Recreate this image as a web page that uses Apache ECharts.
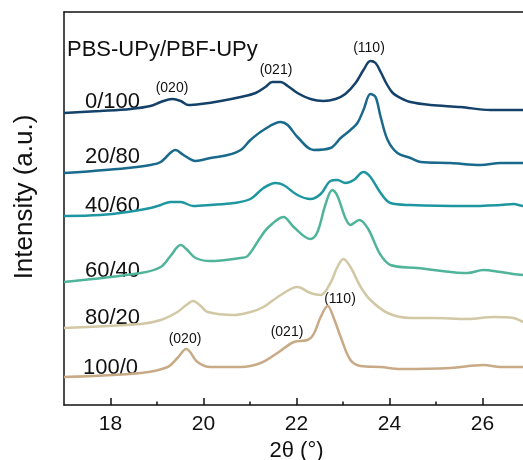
<!DOCTYPE html>
<html>
<head>
<meta charset="utf-8">
<title>XRD patterns</title>
<script src="https://cdn.jsdelivr.net/npm/echarts@6/dist/echarts.min.js"></script>
<style>
  html, body { margin: 0; padding: 0; overflow: hidden; background: #fff; }
  #chart { width: 540px; height: 460px; }
</style>
</head>
<body>
<div id="chart"></div>
<script>
// Diffraction patterns, [2θ (°), stacked intensity (a.u.)]
const pattern_0_100 = [
  [17.0, 292], [17.78, 294], [18.43, 296], [18.86, 299], [19.08, 303], [19.33, 306],
  [19.51, 304], [19.68, 300], [19.94, 301], [20.37, 304], [20.80, 308], [21.12, 312],
  [21.33, 318], [21.48, 323], [21.66, 323], [21.81, 319], [22.02, 312], [22.30, 306],
  [22.58, 304], [22.84, 306], [23.05, 311], [23.27, 322], [23.44, 335], [23.59, 344],
  [23.70, 342], [23.81, 333], [23.94, 321], [24.07, 312], [24.24, 307], [24.45, 303],
  [24.88, 300], [25.53, 298], [26.17, 295], [26.88, 295], [27.0, 295]
];
const pattern_20_80 = [
  [17.0, 232], [17.63, 234], [18.37, 237], [18.86, 240], [19.08, 243], [19.40, 255],
  [19.57, 250], [19.83, 244], [20.15, 247], [20.52, 250], [20.80, 255], [21.01, 265],
  [21.29, 275], [21.66, 283], [21.81, 280], [22.02, 268], [22.37, 255], [22.73, 257],
  [22.95, 267], [23.16, 275], [23.31, 282], [23.44, 295], [23.59, 311], [23.70, 308],
  [23.81, 288], [23.96, 265], [24.17, 252], [24.45, 247], [24.67, 243], [25.31, 242],
  [25.96, 240], [26.39, 242], [26.88, 242], [27.0, 242]
];
const pattern_40_60 = [
  [17.0, 189], [17.78, 190], [18.37, 193], [18.86, 197], [19.08, 200], [19.29, 203],
  [19.51, 203], [19.78, 199], [20.15, 200], [20.65, 202], [21.01, 206], [21.29, 217],
  [21.55, 222], [21.72, 220], [22.02, 210], [22.30, 206], [22.52, 211], [22.73, 224],
  [22.88, 225], [23.05, 222], [23.23, 225], [23.44, 233], [23.59, 228], [23.81, 212],
  [24.02, 202], [24.45, 200], [25.68, 199], [26.39, 200], [26.67, 201], [26.88, 199], [27.0, 199]
];
const pattern_60_40 = [
  [17.0, 123], [18.65, 132], [19.08, 138], [19.29, 149], [19.51, 160], [19.63, 156],
  [19.83, 147], [20.15, 144], [20.80, 147], [20.95, 149], [21.23, 168], [21.38, 177],
  [21.72, 188], [21.94, 178], [22.30, 166], [22.45, 173], [22.62, 200], [22.77, 215],
  [22.88, 209], [23.05, 187], [23.16, 180], [23.35, 185], [23.53, 177], [23.70, 160],
  [23.81, 150], [24.02, 140], [24.60, 137], [24.95, 135], [25.68, 132], [26.02, 135],
  [26.39, 133], [26.88, 130], [27.0, 130]
];
const pattern_80_20 = [
  [17.0, 77], [18.65, 81], [19.08, 85], [19.44, 93], [19.63, 100], [19.78, 104],
  [19.94, 99], [20.09, 93], [20.65, 90], [21.01, 93], [21.29, 98], [21.66, 110],
  [22.02, 118], [22.30, 112], [22.52, 110], [22.73, 122], [22.88, 138], [23.01, 146],
  [23.16, 138], [23.38, 118], [23.59, 105], [23.96, 92], [24.45, 87], [24.95, 87],
  [25.68, 86], [26.24, 88], [26.67, 87], [26.88, 83], [27.0, 82]
];
const pattern_100_0 = [
  [17.0, 28], [18.65, 32], [19.23, 38], [19.44, 47], [19.63, 56], [19.87, 43],
  [20.15, 38], [20.80, 38], [21.23, 42], [21.59, 52], [21.94, 63], [22.24, 65],
  [22.37, 71], [22.52, 88], [22.67, 99], [22.80, 87], [22.95, 68], [23.16, 45],
  [23.38, 39], [23.81, 38], [24.24, 36], [25.31, 37], [26.02, 40], [26.39, 38],
  [26.88, 38], [27.0, 38]
];

const sampleNames = ['0/100', '20/80', '40/60', '60/40', '80/20', '100/0'];
const patterns = [pattern_0_100, pattern_20_80, pattern_40_60, pattern_60_40, pattern_80_20, pattern_100_0];
const lineColors = ['#14416a', '#19698c', '#1e96a0', '#50b49b', '#d2c8a5', '#c8aa87'];

const majorTicks = [18, 20, 22, 24, 26];
const minorTicks = [19, 21, 23, 25];

const FONT = '"Liberation Sans", Arial, sans-serif';

const chart = echarts.init(document.getElementById('chart'), null, { renderer: 'canvas' });

function txt(text, x, y, size, align) {
  return {
    type: 'text', x: x, y: y, silent: true,
    style: { text: text, font: size + 'px ' + FONT, fill: '#111', align: align || 'left', verticalAlign: 'middle' }
  };
}

const option = {
  animation: false,
  backgroundColor: '#fff',
  grid: { left: 64, top: 12, right: 11, bottom: 55, containLabel: false, outerBoundsMode: 'none' },
  xAxis: [
    {
      type: 'value', position: 'bottom', min: 17, max: 27,
      name: '2θ (°)', nameLocation: 'middle', nameGap: 32,
      nameTextStyle: { fontFamily: FONT, fontSize: 22, color: '#111' },
      axisLine: { show: true, lineStyle: { color: '#111', width: 1.5 } },
      axisTick: { show: true, inside: true, length: 7, customValues: majorTicks, lineStyle: { color: '#111', width: 1.5 } },
      axisLabel: { show: true, customValues: majorTicks, margin: 9, fontFamily: FONT, fontSize: 21, color: '#111' },
      splitLine: { show: false }
    },
    {
      type: 'value', position: 'bottom', min: 17, max: 27,
      axisLine: { show: false },
      axisTick: { show: true, inside: true, length: 3.5, customValues: minorTicks, lineStyle: { color: '#111', width: 1.5 } },
      axisLabel: { show: false },
      splitLine: { show: false }
    },
    {
      type: 'value', position: 'top', min: 17, max: 27,
      axisLine: { show: true, lineStyle: { color: '#111', width: 1.5 } },
      axisTick: { show: false },
      axisLabel: { show: false },
      splitLine: { show: false }
    }
  ],
  yAxis: {
    type: 'value', min: 0, max: 393,
    axisLine: { show: true, lineStyle: { color: '#111', width: 1.5 } },
    axisTick: { show: false },
    axisLabel: { show: false },
    splitLine: { show: false }
  },
  series: patterns.map((p, i) => ({
    type: 'line',
    name: sampleNames[i],
    data: p,
    xAxisIndex: 0,
    showSymbol: false,
    smooth: 0.35,
    lineStyle: { color: lineColors[i], width: 2.5 },
    z: 2 + i
  })),
  graphic: [
    {
      type: 'text', x: 25, y: 197, rotation: Math.PI / 2, silent: true,
      style: { text: 'Intensity (a.u.)', font: '26px ' + FONT, fill: '#111', align: 'center', verticalAlign: 'middle' }
    },
    txt('PBS-UPy/PBF-UPy', 67, 50, 22),
    txt(sampleNames[0], 85, 102, 22),
    txt(sampleNames[1], 85, 157, 22),
    txt(sampleNames[2], 85, 206, 22),
    txt(sampleNames[3], 85, 271, 22),
    txt(sampleNames[4], 85, 318, 22),
    txt(sampleNames[5], 83, 368, 22),
    txt('(020)', 172, 88, 14, 'center'),
    txt('(021)', 276, 70, 14, 'center'),
    txt('(110)', 369, 48, 14, 'center'),
    txt('(020)', 185, 339, 14, 'center'),
    txt('(021)', 287, 332, 14, 'center'),
    txt('(110)', 340, 299, 14, 'center')
  ]
};

chart.setOption(option);
</script>
</body>
</html>
